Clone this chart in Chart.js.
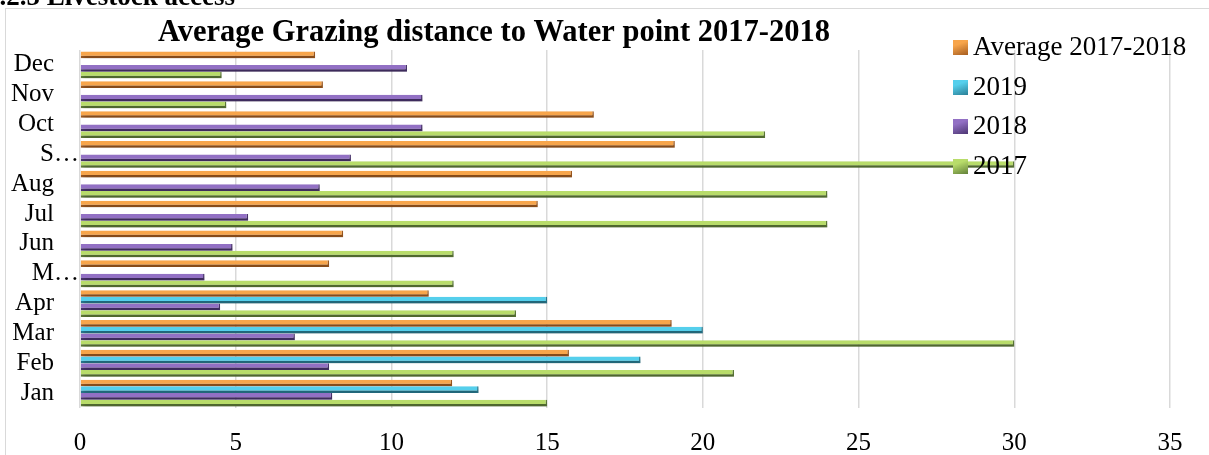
<!DOCTYPE html>
<html>
<head>
<meta charset="utf-8">
<script src="https://cdn.jsdelivr.net/npm/chart.js@4"></script>
<style>
  html, body { margin: 0; padding: 0; background: #fff; }
  #wrap { position: relative; width: 1209px; height: 455px; overflow: hidden; }
  #legend { position: absolute; left: 953px; top: 27px; font-family: "Liberation Serif", serif; font-size: 27px; color: #000; }
  #legend div { height: 39.5px; line-height: 38px; white-space: nowrap; }
  #legend span.sw { display: inline-block; width: 15px; height: 15px; margin-right: 5px; vertical-align: 0px; }
</style>
</head>
<body>
<div id="wrap">
  <canvas id="chart" width="1209" height="455"></canvas>
  <div id="legend"></div>
</div>
<script>
var months = ['Jan', 'Feb', 'Mar', 'Apr', 'M\u2026', 'Jun', 'Jul', 'Aug', 'S\u2026', 'Oct', 'Nov', 'Dec'];
var avg1718 = [11.95, 15.7, 19, 11.2, 8, 8.45, 14.7, 15.8, 19.1, 16.5, 7.8, 7.55];
var y2019 = [12.8, 18, 20, 15, null, null, null, null, null, null, null, null];
var y2018 = [8.1, 8, 6.9, 4.5, 4, 4.9, 5.4, 7.7, 8.7, 11, 11, 10.5];
var y2017 = [15, 21, 30, 14, 12, 12, 24, 24, 30, 22, 4.7, 4.55];
var xTicks = [0, 5, 10, 15, 20, 25, 30, 35];

var serif = '"Liberation Serif", "Times New Roman", serif';

// fill colour, dark edge colour
var series = [
  { label: 'Average 2017-2018', data: avg1718, fill: '#f7a54b', edge: '#a65d20' },
  { label: '2019', data: y2019, fill: '#55cfec', edge: '#2a7f96' },
  { label: '2018', data: y2018, fill: '#9270c4', edge: '#4c3672' },
  { label: '2017', data: y2017, fill: '#b8dc6a', edge: '#62803a' }
];

var frameAndTitle = {
  id: 'frameAndTitle',
  beforeDraw: function(chart) {
    var ctx = chart.ctx;
    ctx.save();
    ctx.fillStyle = '#000';
    ctx.font = 'bold 27px ' + serif;
    ctx.textBaseline = 'alphabetic';
    ctx.fillText('4.2.5 Livestock access', -14, 5);
    ctx.strokeStyle = '#d9d9d9';
    ctx.lineWidth = 1;
    ctx.strokeRect(5.5, 8.5, 1220, 460);
    ctx.font = 'bold 30.5px ' + serif;
    ctx.textAlign = 'center';
    ctx.textBaseline = 'middle';
    ctx.fillText('Average Grazing distance to Water point 2017-2018', 494, 33);
    ctx.restore();
  },
  beforeDatasetsDraw: function(chart) {
    var ctx = chart.ctx;
    ctx.save();
    ctx.shadowColor = 'rgba(0,0,0,0.3)';
    ctx.shadowBlur = 4;
    ctx.shadowOffsetX = 2;
    ctx.shadowOffsetY = 3;
  },
  afterDatasetsDraw: function(chart) {
    chart.ctx.restore();
  }
};

var ctx = document.getElementById('chart');
var myChart = new Chart(ctx, {
  type: 'bar',
  data: {
    labels: months,
    datasets: series.map(function(s) {
      return {
        label: s.label,
        data: s.data,
        backgroundColor: s.fill,
        borderColor: s.edge,
        borderWidth: { top: 0, left: 0, right: 1.5, bottom: 2.5 },
        borderSkipped: false,
        barPercentage: 1.0,
        categoryPercentage: 0.9
      };
    })
  },
  options: {
    indexAxis: 'y',
    responsive: false,
    animation: false,
    layout: { padding: { top: 50, right: 39, left: 8, bottom: 0 } },
    scales: {
      x: {
        min: 0,
        max: 35,
        afterBuildTicks: function(axis) {
          axis.ticks = xTicks.map(function(v) { return { value: v }; });
        },
        afterFit: function(axis) { axis.height = 47; },
        grid: { color: '#d9d9d9', lineWidth: 1.5, drawTicks: false },
        border: { display: false },
        ticks: { color: '#000', font: { family: serif, size: 25 }, padding: 20 }
      },
      y: {
        reverse: true,
        afterFit: function(axis) { axis.width = 72; },
        grid: { display: false, drawTicks: false },
        border: { display: false },
        ticks: {
          color: '#000',
          font: { family: serif, size: 25 },
          padding: 1,
          autoSkip: false,
          // truncated labels run right up to the plot, the others stop short
          callback: function(v) {
            var lab = this.getLabelForValue(v);
            return lab.indexOf('\u2026') >= 0 ? lab : lab + '\u2002\u2002';
          }
        }
      }
    },
    plugins: {
      legend: { display: false },
      title: { display: false },
      tooltip: { enabled: false }
    }
  },
  plugins: [frameAndTitle]
});

// legend, same order as the datasets
var leg = document.getElementById('legend');
series.forEach(function(s) {
  var row = document.createElement('div');
  var sw = document.createElement('span');
  sw.className = 'sw';
  sw.style.background = 'linear-gradient(160deg, ' + s.fill + ' 30%, ' + s.edge + ')';
  row.appendChild(sw);
  row.appendChild(document.createTextNode(s.label));
  leg.appendChild(row);
});
</script>
</body>
</html>
